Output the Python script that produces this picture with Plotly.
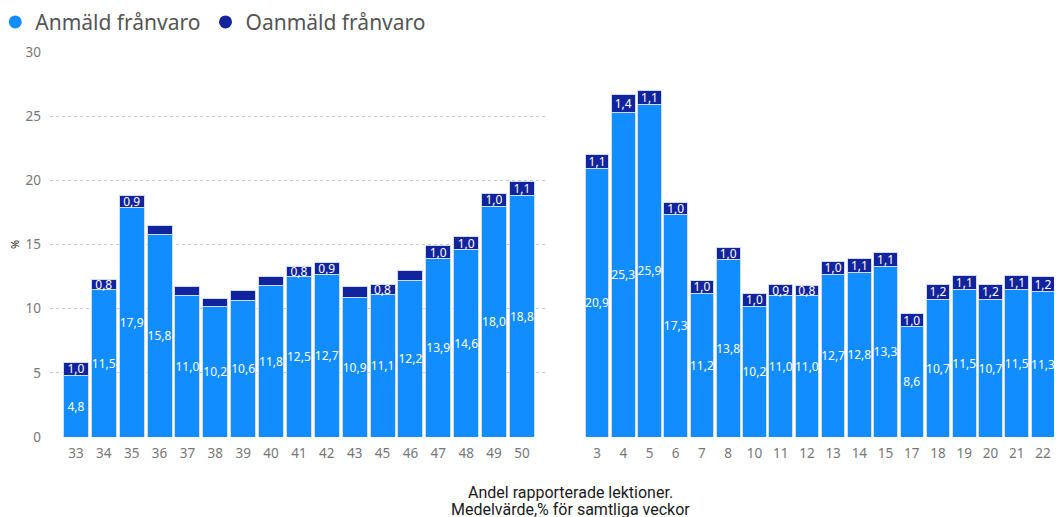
import plotly.graph_objects as go

# Left panel (weeks autumn)
weeks_a = ["33", "34", "35", "36", "37", "38", "39", "40", "41", "42", "43", "45", "46", "47", "48", "49", "50"]
anm_a = [4.8, 11.5, 17.9, 15.8, 11.0, 10.2, 10.6, 11.8, 12.5, 12.7, 10.9, 11.1, 12.2, 13.9, 14.6, 18.0, 18.8]
oanm_a = [1.0, 0.8, 0.9, 0.7, 0.7, 0.6, 0.8, 0.7, 0.8, 0.9, 0.8, 0.8, 0.8, 1.0, 1.0, 1.0, 1.1]
oanm_a_shown = [True, True, True, False, False, False, False, False, True, True, False, True, False, True, True, True, True]

# Right panel (weeks spring)
weeks_b = ["3", "4", "5", "6", "7", "8", "10", "11", "12", "13", "14", "15", "17", "18", "19", "20", "21", "22"]
anm_b = [20.9, 25.3, 25.9, 17.3, 11.2, 13.8, 10.2, 11.0, 11.0, 12.7, 12.8, 13.3, 8.6, 10.7, 11.5, 10.7, 11.5, 11.3]
oanm_b = [1.1, 1.4, 1.1, 1.0, 1.0, 1.0, 1.0, 0.9, 0.8, 1.0, 1.1, 1.1, 1.0, 1.2, 1.1, 1.2, 1.1, 1.2]

y_ticks = [0, 5, 10, 15, 20, 25, 30]

C_ANM = "#118DFF"
C_OANM = "#12239E"
FONT = "Segoe UI, Noto Sans, Open Sans, sans-serif"


def fmt(v):
    return f"{v:.1f}".replace(".", ",")


W, H = 1062, 517
OFF = 8  # page body margin offset


def px(x):
    return (x - OFF) / W


def py(y):
    return (H - (y - OFF)) / H


fig = go.Figure()

common = dict(textposition="inside", insidetextanchor="middle", textangle=0,
              constraintext="none", cliponaxis=False, showlegend=False,
              textfont=dict(family=FONT, size=12, color="white"),
              marker_line=dict(color="#cfdcf7", width=1))

fig.add_trace(go.Bar(x=weeks_a, y=anm_a, text=[fmt(v) for v in anm_a], marker_color=C_ANM,
                     xaxis="x", yaxis="y", **common))
fig.add_trace(go.Bar(x=weeks_a, y=oanm_a, text=[fmt(v) if s else "" for v, s in zip(oanm_a, oanm_a_shown)],
                     marker_color=C_OANM, xaxis="x", yaxis="y", **common))
fig.add_trace(go.Bar(x=weeks_b, y=anm_b, text=[fmt(v) for v in anm_b], marker_color=C_ANM,
                     xaxis="x2", yaxis="y2", **common))
fig.add_trace(go.Bar(x=weeks_b, y=oanm_b, text=[fmt(v) for v in oanm_b], marker_color=C_OANM,
                     xaxis="x2", yaxis="y2", **common))

# legend entries with circle markers
fig.add_trace(go.Scatter(x=[None], y=[None], mode="markers", name="Anmäld frånvaro",
                         marker=dict(color=C_ANM, size=13, symbol="circle")))
fig.add_trace(go.Scatter(x=[None], y=[None], mode="markers", name="Oanmäld frånvaro",
                         marker=dict(color=C_OANM, size=13, symbol="circle")))

ydom = [py(437), py(52)]
tickfont = dict(family=FONT, size=13.5, color="#777777")

fig.update_layout(
    width=W, height=H,
    margin=dict(l=0, r=0, t=0, b=0, autoexpand=False),
    paper_bgcolor="white", plot_bgcolor="white",
    barmode="stack", bargap=0.1,
    font=dict(family=FONT),
    legend=dict(orientation="h", x=-0.012, y=1.012, xanchor="left", yanchor="top",
                traceorder="normal",
                font=dict(family=FONT, size=21, color="#555555"),
                itemwidth=30, tracegroupgap=0, bgcolor="rgba(0,0,0,0)"),
    xaxis=dict(domain=[px(50), px(547)], type="category", range=[-0.93, 16.9],
               showgrid=False, zeroline=False, showline=False, ticks="",
               tickfont=tickfont, ticklabelstandoff=6, anchor="y"),
    yaxis=dict(domain=ydom, range=[0, 30], tickvals=y_ticks, showgrid=True,
               gridcolor="#c8c8c8", griddash="dot", gridwidth=1, zeroline=False,
               showline=False, ticks="", tickfont=tickfont, ticklabelstandoff=8,
               anchor="x"),
    xaxis2=dict(domain=[px(575), px(1054)], type="category", range=[-0.84, 17.42],
                showgrid=False, zeroline=False, showline=False, ticks="",
                tickfont=tickfont, ticklabelstandoff=6, anchor="y2"),
    yaxis2=dict(domain=ydom, range=[0, 30], visible=False, showgrid=False,
                anchor="x2"),
    annotations=[
        dict(text="%", xref="paper", yref="paper", x=px(14), y=py(245),
             xanchor="center", yanchor="middle",
             textangle=-90, showarrow=False, font=dict(family=FONT, size=11, color="#222222")),
        dict(text="Andel rapporterade lektioner.", xref="paper", yref="paper",
             x=px(570), y=py(492), xanchor="center", yanchor="middle", showarrow=False,
             font=dict(family="Roboto, sans-serif", size=16, color="#1a1a1a")),
        dict(text="Medelvärde,% för samtliga veckor", xref="paper", yref="paper",
             x=px(570), y=py(509), xanchor="center", yanchor="middle", showarrow=False,
             font=dict(family="Roboto, sans-serif", size=16, color="#1a1a1a")),
    ],
)

fig.write_html("out.html")
